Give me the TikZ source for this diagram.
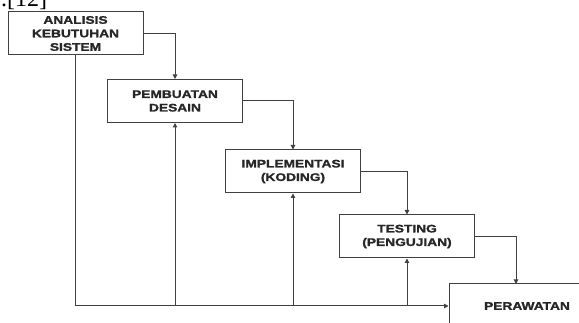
\documentclass[tikz,border=0pt]{standalone}
\usepackage{fontspec}
\newfontfamily\kotakfont{Liberation Sans}[BoldFont={Liberation Sans Bold}, BoldFeatures={FakeStretch=1.25, FakeBold=1.5}]
\newfontfamily\rujukfont{Liberation Serif}
\usetikzlibrary{positioning, arrows.meta}

\tikzset{
    kotak/.style={draw=black!75, line width=1pt, fill=white, align=center,
        inner sep=0pt, minimum width=135, minimum height=43,
        text=black!85, font=\kotakfont\bfseries\fontsize{11}{13.5}\selectfont},
    panah/.style={draw=black!75, line width=1pt, -{Triangle[length=4.5pt,width=4.5pt]}}
}

\begin{document}
\begin{tikzpicture}[x=1pt,y=1pt,yscale=-1,xscale=1]
    \clip (0,0) rectangle (579,323);
    
    % Text Node
    \node (rujuk) [anchor=base west, inner sep=0pt, font=\rujukfont\fontsize{24}{24}\selectfont] at (1,7) {.[12]};
    
    %Shape: Rectangle
    \node (analisis) [kotak] at (75.5,33.5) {ANALISIS\\KEBUTUHAN\\SISTEM};
    %Shape: Rectangle
    \node (desain) [kotak] at (175,101) {PEMBUATAN\\DESAIN};
    %Shape: Rectangle
    \node (koding) [kotak] at (293,171.5) {IMPLEMENTASI\\(KODING)};
    %Shape: Rectangle
    \node (testing) [kotak] at (407,236.5) {TESTING\\(PENGUJIAN)};
    %Shape: Rectangle
    \node (rawat) [kotak, minimum width=156, minimum height=44] at (527,306) {PERAWATAN};
    \coordinate (masukrawat) at (516,284);
    
    %Straight Lines (down the steps)
    \draw [panah] (analisis.east) -| (desain.north);
    \draw [panah] (desain.east) -| (koding.north);
    \draw [panah] (koding.east) -| (testing.north);
    \draw [panah] (testing.east) -| (masukrawat);
    
    %Straight Lines (back up from the bottom line)
    \draw [panah] (analisis.south) |- (rawat.west);
    \draw [panah] (desain.south |- rawat.west) -- (desain.south);
    \draw [panah] (koding.south |- rawat.west) -- (koding.south);
    \draw [panah] (testing.south |- rawat.west) -- (testing.south);
    
\end{tikzpicture}
\end{document}
